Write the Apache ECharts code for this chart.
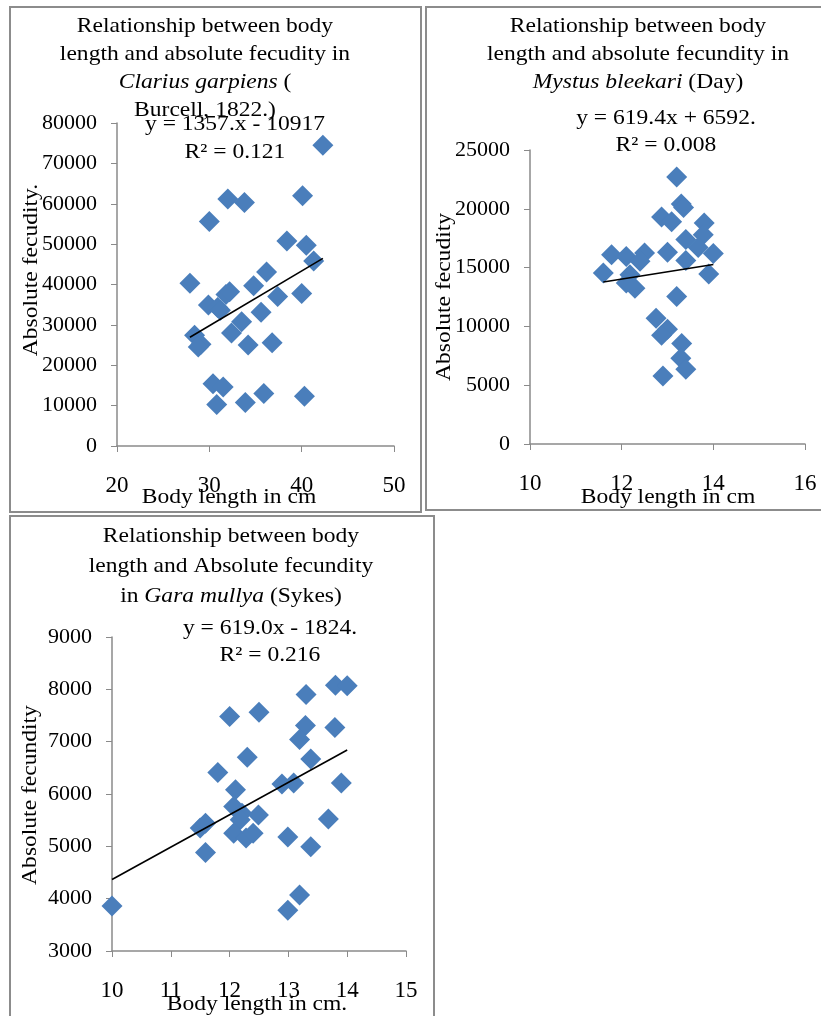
<!DOCTYPE html>
<html>
<head>
<meta charset="utf-8">
<script src="https://cdn.jsdelivr.net/npm/echarts@6.0.0/dist/echarts.min.js"></script>
</head>
<body style="margin:0; padding:0; background:#ffffff;">
<div id="main" style="width:821px; height:1016px;"></div>
<script>
// ---------------------------------------------------------
// Data: [body length (cm), absolute fecundity]
// ---------------------------------------------------------
const clariasPoints = [
    [42.3, 74500], [32.0, 61200], [33.8, 60300], [40.1, 62000], [30.0, 55600],
    [38.4, 50800], [40.5, 49700], [41.3, 45800], [36.2, 43100], [27.9, 40300],
    [31.8, 37500], [32.2, 38200], [34.8, 39700], [37.4, 37000], [40.0, 37800],
    [29.9, 34900], [30.9, 34300], [31.2, 33600], [35.6, 33100], [33.5, 30800],
    [32.4, 28000], [28.4, 27400], [29.1, 25200], [28.8, 24500], [34.2, 25000],
    [36.8, 25600], [30.4, 15400], [31.5, 14600], [30.8, 10300], [33.9, 10800],
    [35.9, 13000], [40.3, 12300]
];
const mystusPoints = [
    [13.2, 22700], [13.3, 20400], [13.35, 20100], [12.87, 19300], [13.09, 18900],
    [13.8, 18800], [13.78, 17800], [13.4, 17400], [13.67, 16700], [14.0, 16200],
    [13.0, 16300], [13.4, 15600], [11.78, 16100], [12.1, 15950], [12.5, 16250],
    [12.4, 15550], [11.6, 14550], [13.9, 14450], [12.18, 14400], [12.1, 13700],
    [12.29, 13250], [13.2, 12550], [12.75, 10700], [13.0, 9750], [12.87, 9250],
    [13.31, 8550], [13.29, 7300], [13.4, 6350], [12.9, 5780]
];
const garaPoints = [
    [13.8, 8080], [14.0, 8070], [13.3, 7900], [12.0, 7480], [12.5, 7560],
    [13.29, 7310], [13.79, 7270], [13.19, 7040], [12.3, 6700], [13.38, 6670],
    [11.8, 6410], [12.1, 6080], [12.89, 6190], [13.09, 6210], [13.9, 6210],
    [12.07, 5760], [12.21, 5630], [12.18, 5510], [12.49, 5600], [11.5, 5350],
    [11.59, 5440], [12.07, 5250], [12.28, 5160], [12.4, 5250], [12.99, 5180],
    [13.38, 4990], [13.68, 5520], [11.59, 4880], [10.0, 3860], [13.19, 4070],
    [12.99, 3780]
];

// trend line end points (from the printed equations, at min / max length)
const clariasTrend = [[27.9, 26943], [42.3, 46484]];
const mystusTrend = [[11.6, 13777], [14.0, 15264]];
const garaTrend = [[10.0, 4366], [14.0, 6842]];

// axis ranges: [min, max, interval]
const clariasX = [20, 50, 10];
const clariasY = [0, 80000, 10000];
const mystusX = [10, 16, 2];
const mystusY = [0, 25000, 5000];
const garaX = [10, 15, 1];
const garaY = [3000, 9000, 1000];

// text lines of each panel
const clariasTitle = ['Relationship between body', 'length and absolute fecudity in', '{i|Clarius garpiens} (', 'Burcell, 1822.)'];
const clariasEq = ['y = 1357.x - 10917', 'R² = 0.121'];
const mystusTitle = ['Relationship between body', 'length and absolute fecundity in', '{i|Mystus bleekari} (Day)'];
const mystusEq = ['y = 619.4x + 6592.', 'R² = 0.008'];
const garaTitle = ['Relationship between body', 'length and Absolute fecundity', 'in {i|Gara mullya} (Sykes)'];
const garaEq = ['y = 619.0x - 1824.', 'R² = 0.216'];

// ---------------------------------------------------------
// helpers
// ---------------------------------------------------------
const FONT = '"Liberation Serif", "Times New Roman", serif';
const AXIS_GRAY = '#8a8a8a';
const MARKER = '#4A7EBB';

function makeXAxis(gridIndex, range) {
    return {
        type: 'value', gridIndex: gridIndex,
        min: range[0], max: range[1], interval: range[2],
        splitLine: { show: false },
        axisLine: { show: true, onZero: false, lineStyle: { color: AXIS_GRAY, width: 1.5 } },
        axisTick: { show: true, length: 6, lineStyle: { color: AXIS_GRAY } },
        axisLabel: { margin: 28, color: '#000', fontFamily: FONT, fontSize: 23, formatter: v => String(v) }
    };
}

function makeYAxis(gridIndex, range) {
    return {
        type: 'value', gridIndex: gridIndex,
        min: range[0], max: range[1], interval: range[2],
        splitLine: { show: false },
        axisLine: { show: true, onZero: false, lineStyle: { color: AXIS_GRAY, width: 1.5 } },
        axisTick: { show: true, length: 6, lineStyle: { color: AXIS_GRAY } },
        axisLabel: { margin: 20, color: '#000', fontFamily: FONT, fontSize: 22, formatter: v => String(v) }
    };
}

function makeSeries(index, points, trend) {
    return [
        {
            type: 'scatter', xAxisIndex: index, yAxisIndex: index,
            data: points, symbol: 'diamond', symbolSize: 21,
            itemStyle: { color: MARKER, opacity: 1 }, z: 2
        },
        {
            type: 'line', xAxisIndex: index, yAxisIndex: index,
            data: trend, showSymbol: false, symbol: 'none',
            lineStyle: { color: '#000', width: 1.6 }, z: 3
        }
    ];
}

// text drawn as graphic so the slightly wide Word typeface can be matched
function label(text, x, y, rotate) {
    return {
        type: 'text', x: x, y: y, rotation: rotate ? Math.PI / 2 : 0,
        scaleX: 1.07, silent: true, z: 10,
        style: {
            text: text, align: 'center', verticalAlign: 'middle',
            fontFamily: FONT, fontSize: 22, fill: '#000',
            rich: { i: { fontStyle: 'italic', fontFamily: FONT, fontSize: 22, fill: '#000' } }
        }
    };
}

function block(lines, x, y0, step) {
    return lines.map((t, i) => label(t, x, y0 + i * step));
}

function frame(x, y, w, h) {
    return {
        type: 'rect', silent: true, z: 0,
        shape: { x: x, y: y, width: w, height: h },
        style: { fill: 'none', stroke: '#8c8c8c', lineWidth: 2 }
    };
}

// ---------------------------------------------------------
// chart
// ---------------------------------------------------------
const chart = echarts.init(document.getElementById('main'));

const graphics = [
    frame(10, 7, 411, 505),
    frame(426, 7, 400, 503),
    frame(10, 516, 424, 505),
    ...block(clariasTitle, 205, 26, 28),
    ...block(clariasEq, 235, 124, 28),
    label('Absolute fecudity.', 31, 270, true),
    label('Body length in cm', 229, 497),
    ...block(mystusTitle, 638, 26, 28),
    ...block(mystusEq, 666, 118, 27),
    label('Absolute fecudity', 444, 297, true),
    label('Body length in cm', 668, 497),
    ...block(garaTitle, 231, 536, 30),
    ...block(garaEq, 270, 628, 27),
    label('Absolute fecundity', 30, 795, true),
    label('Body length in cm.', 257, 1004)
];

chart.setOption({
    animation: false,
    backgroundColor: '#ffffff',
    grid: [
        { left: 117, top: 123, width: 277, height: 323, containLabel: false, outerBoundsMode: 'none' },
        { left: 530, top: 150, width: 275, height: 294, containLabel: false, outerBoundsMode: 'none' },
        { left: 112, top: 637, width: 294, height: 314, containLabel: false, outerBoundsMode: 'none' }
    ],
    xAxis: [makeXAxis(0, clariasX), makeXAxis(1, mystusX), makeXAxis(2, garaX)],
    yAxis: [makeYAxis(0, clariasY), makeYAxis(1, mystusY), makeYAxis(2, garaY)],
    series: [
        ...makeSeries(0, clariasPoints, clariasTrend),
        ...makeSeries(1, mystusPoints, mystusTrend),
        ...makeSeries(2, garaPoints, garaTrend)
    ],
    graphic: graphics
});
</script>
</body>
</html>
